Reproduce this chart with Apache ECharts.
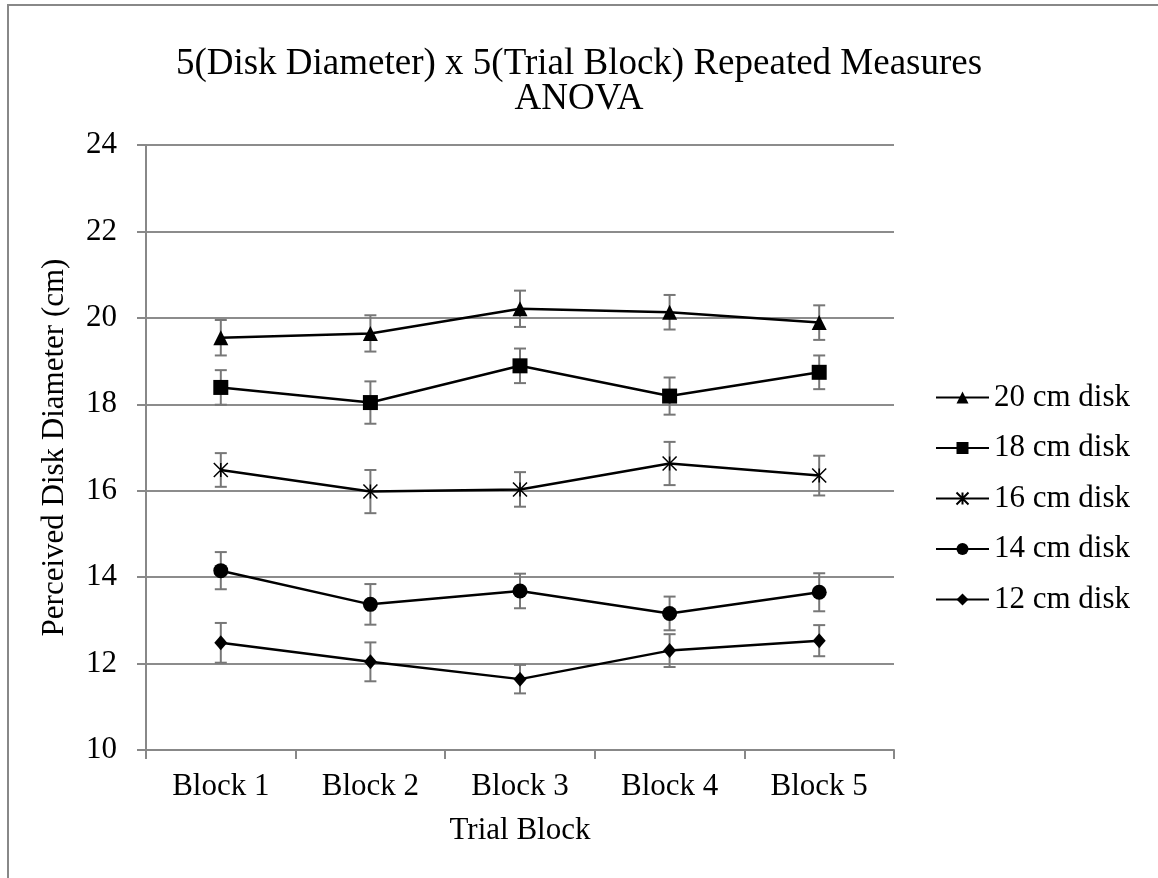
<!DOCTYPE html>
<html>
<head>
<meta charset="utf-8">
<script src="https://cdn.jsdelivr.net/npm/echarts@6/dist/echarts.min.js"></script>
<style>
html,body{margin:0;padding:0;background:#fff;}
#chart{width:1158px;height:878px;}
</style>
</head>
<body>
<div id="chart"></div>
<script>
const blocks = ['Block 1', 'Block 2', 'Block 3', 'Block 4', 'Block 5'];
const seriesNames = ['20 cm disk', '18 cm disk', '16 cm disk', '14 cm disk', '12 cm disk'];
const d20 = [19.54, 19.64, 20.21, 20.13, 19.89];
const e20 = [0.41, 0.42, 0.42, 0.40, 0.40];
const d18 = [18.39, 18.04, 18.89, 18.19, 18.74];
const e18 = [0.40, 0.49, 0.40, 0.43, 0.39];
const d16 = [16.48, 15.98, 16.03, 16.63, 16.35];
const e16 = [0.39, 0.50, 0.40, 0.50, 0.46];
const d14 = [14.15, 13.37, 13.68, 13.16, 13.65];
const e14 = [0.43, 0.47, 0.40, 0.39, 0.44];
const d12 = [12.48, 12.04, 11.64, 12.30, 12.53];
const e12 = [0.46, 0.45, 0.33, 0.38, 0.36];

const FONT = "'Liberation Serif', 'Times New Roman', serif";
const means = [d20, d18, d16, d14, d12];
const errs = [e20, e18, e16, e14, e12];
const symbols = [
  'triangle', 'rect',
  'path://M0,0L10,10M10,0L0,10M5,0L5,10',
  'circle', 'diamond'
];
const symbolSizes = [15, 15, 14, 15, [13, 15]];

const chart = echarts.init(document.getElementById('chart'), null, {renderer: 'canvas'});

const series = [];
means.forEach(function (m, i) {
  series.push({
    name: 'err' + i,
    type: 'custom',
    z: 1,
    silent: true,
    data: m.map(function (v, j) { return [j, v - errs[i][j], v + errs[i][j]]; }),
    renderItem: function (params, api) {
      const lo = api.coord([api.value(0), api.value(1)]);
      const hi = api.coord([api.value(0), api.value(2)]);
      const hw = 6;
      const st = {stroke: '#777777', lineWidth: 2};
      return {
        type: 'group',
        children: [
          {type: 'line', shape: {x1: lo[0], y1: lo[1], x2: hi[0], y2: hi[1]}, style: st},
          {type: 'line', shape: {x1: lo[0] - hw, y1: lo[1], x2: lo[0] + hw, y2: lo[1]}, style: st},
          {type: 'line', shape: {x1: hi[0] - hw, y1: hi[1], x2: hi[0] + hw, y2: hi[1]}, style: st}
        ]
      };
    }
  });
});
means.forEach(function (m, i) {
  const isPath = i === 2;
  series.push({
    name: seriesNames[i],
    type: 'line',
    z: 3,
    data: m,
    symbol: symbols[i],
    symbolSize: symbolSizes[i],
    symbolKeepAspect: false,
    lineStyle: {color: '#000', width: 2.5},
    itemStyle: isPath ? {color: '#000', borderColor: '#000', borderWidth: 1.5} : {color: '#000', borderWidth: 0},
    emphasis: {disabled: true}
  });
});

const option = {
  animation: false,
  backgroundColor: '#fff',
  title: {
    text: '5(Disk Diameter) x 5(Trial Block) Repeated Measures\nANOVA',
    left: 'center',
    top: 47,
    padding: 0,
    textStyle: {fontFamily: FONT, fontSize: 37, fontWeight: 'normal', color: '#000', lineHeight: 35, align: 'center'}
  },
  graphic: [{
    type: 'rect',
    shape: {x: 8, y: 5, width: 1300, height: 1000},
    style: {fill: 'none', stroke: '#888', lineWidth: 2},
    silent: true,
    z: 0
  }],
  legend: {
    data: seriesNames,
    orient: 'vertical',
    left: 935,
    top: 382,
    padding: 0,
    itemGap: 19.5,
    itemWidth: 53,
    itemHeight: 15,
    textStyle: {fontFamily: FONT, fontSize: 31, color: '#000', lineHeight: 31}
  },
  grid: {left: 146, right: 264, top: 145, bottom: 128, containLabel: false},
  xAxis: {
    type: 'category',
    data: blocks,
    boundaryGap: true,
    name: 'Trial Block',
    nameLocation: 'middle',
    nameGap: 65,
    nameTextStyle: {fontFamily: FONT, fontSize: 31, color: '#000'},
    axisLine: {lineStyle: {color: '#888', width: 2}},
    axisTick: {show: true, length: 9, lineStyle: {color: '#888', width: 2}},
    axisLabel: {fontFamily: FONT, fontSize: 31, color: '#000', margin: 21},
    splitLine: {show: false}
  },
  yAxis: {
    type: 'value',
    min: 10,
    max: 24,
    interval: 2,
    name: 'Perceived Disk Diameter (cm)',
    nameLocation: 'middle',
    nameGap: 76,
    nameTextStyle: {fontFamily: FONT, fontSize: 31, color: '#000'},
    axisLine: {show: true, lineStyle: {color: '#888', width: 2}},
    axisTick: {show: true, length: 9, lineStyle: {color: '#888', width: 2}},
    axisLabel: {fontFamily: FONT, fontSize: 31, color: '#000', margin: 29},
    splitLine: {show: true, lineStyle: {color: '#8c8c8c', width: 2}}
  },
  series: series
};
chart.setOption(option);
</script>
</body>
</html>
